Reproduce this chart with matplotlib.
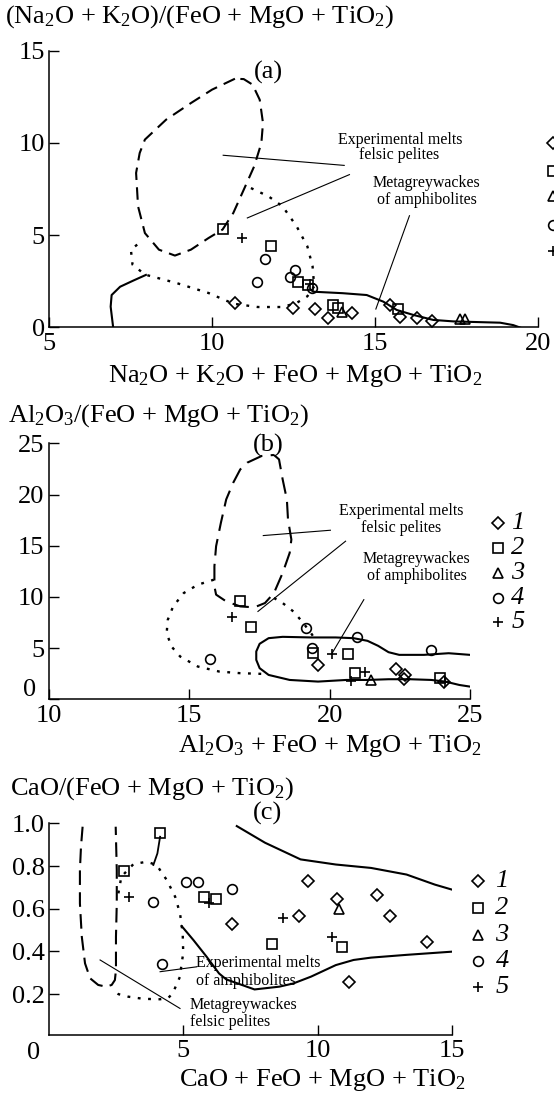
import matplotlib
matplotlib.use("Agg")
import matplotlib.pyplot as plt

plt.rcParams['font.family'] = 'Liberation Serif'
plt.rcParams['mathtext.fontset'] = 'custom'
plt.rcParams['mathtext.rm'] = 'Liberation Serif'
plt.rcParams['mathtext.it'] = 'Liberation Serif:italic'

# ---------------- panel (a) ----------------
a_pelite_x = [10.70, 10.00, 9.35, 8.59, 7.94, 7.78, 7.67, 7.73, 7.94, 8.37, 8.86, 9.35,
              9.89, 10.32, 10.65, 10.97, 11.29, 11.51, 11.56, 11.46, 11.24, 10.97, 10.70]
a_pelite_y = [13.48, 12.89, 12.16, 11.26, 10.18, 9.45, 8.37, 6.56, 5.11, 4.21, 3.89, 4.21,
              4.84, 5.30, 6.20, 7.46, 8.73, 9.99, 11.08, 12.34, 13.16, 13.46, 13.48]
a_greywacke_x = [11.19, 11.73, 12.16, 12.59, 12.92, 13.08, 13.13, 12.92, 12.59, 12.16, 11.40,
                 10.65, 9.89, 8.91, 7.94, 7.56, 7.51, 7.83]
a_greywacke_y = [7.55, 7.10, 6.56, 5.48, 4.39, 3.31, 2.22, 1.68, 1.32, 1.10, 1.10,
                 1.28, 1.86, 2.40, 2.86, 3.40, 4.21, 4.66]
a_amph_left_x = [6.97, 6.89, 6.92, 7.18, 7.58, 7.97]
a_amph_left_y = [-0.05, 1.12, 1.75, 2.20, 2.53, 2.84]
a_amph_right_x = [13.02, 13.10, 14.0, 14.74, 15.25, 15.66, 16.17, 16.78, 17.4, 18.2, 18.83, 19.23, 19.5]
a_amph_right_y = [2.05, 1.93, 1.85, 1.75, 1.39, 0.94, 0.67, 0.40, 0.32, 0.28, 0.25, 0.12, -0.05]

a_x1 = [10.70, 12.49, 13.15, 13.56, 14.28, 15.45, 15.76, 16.27, 16.73]
a_y1 = [1.30, 1.03, 0.99, 0.49, 0.79, 1.21, 0.57, 0.49, 0.34]
a_x2 = [10.34, 11.81, 12.64, 12.95, 13.72, 13.85, 15.71]
a_y2 = [5.33, 4.39, 2.47, 2.29, 1.21, 1.05, 0.98]
a_x3 = [13.97, 17.60, 17.75]
a_y3 = [0.85, 0.43, 0.43]
a_x4 = [11.62, 11.37, 12.39, 12.54, 13.05]
a_y4 = [3.71, 2.44, 2.74, 3.11, 2.11]
a_x5 = [10.92, 13.0]
a_y5 = [4.84, 2.35]

# ---------------- panel (b) ----------------
b_pelite_x = [18.02, 18.20, 18.33, 18.48, 18.52, 18.64, 18.58, 18.33, 18.02, 17.70, 17.32, 16.82,
              16.32, 15.96, 15.90, 15.90, 15.96, 16.13, 16.32, 16.57, 16.82, 17.07, 17.58, 18.02]
b_pelite_y = [23.86, 23.43, 21.47, 19.51, 17.56, 15.60, 14.30, 12.34, 10.38, 9.40, 8.98, 9.07,
              9.56, 10.22, 11.03, 12.99, 14.95, 17.23, 19.52, 21.15, 22.45, 23.11, 23.76, 23.86]
b_greywacke_x = [15.88, 15.31, 14.81, 14.43, 14.24, 14.20, 14.37, 14.68, 15.31, 16.07, 16.82, 17.64]
b_greywacke_y = [11.68, 11.19, 10.38, 9.07, 7.77, 6.46, 5.16, 4.18, 3.20, 2.71, 2.55, 2.48]
b_greywacke2_x = [18.02, 18.33, 18.71, 19.02, 19.34, 19.46]
b_greywacke2_y = [9.89, 9.40, 8.58, 7.60, 6.46, 5.97]
b_amph_x = [25.0, 24.24, 23.36, 22.48, 22.10, 21.73, 21.35, 20.85, 20.22, 19.34, 18.33, 17.83, 17.51,
            17.39, 17.39, 17.51, 17.83, 18.58, 19.59, 20.60, 21.35, 22.10, 22.86, 23.62, 24.12, 24.62, 25.0]
b_amph_y = [4.34, 4.50, 4.34, 4.34, 4.60, 5.22, 5.71, 5.97, 6.04, 6.04, 6.10, 5.97, 5.42,
            4.67, 3.85, 3.04, 2.38, 1.89, 1.73, 1.89, 1.89, 1.96, 1.96, 1.89, 1.73, 1.40, 1.24]

b_x1 = [19.59, 22.36, 22.67, 22.65, 24.09]
b_y1 = [3.36, 2.94, 2.38, 1.96, 1.73]
b_x2 = [16.82, 17.20, 19.40, 20.66, 20.91, 23.93]
b_y2 = [9.56, 7.05, 4.50, 4.44, 2.55, 2.06]
b_x3 = [21.48]
b_y3 = [1.92]
b_x4 = [15.75, 19.15, 19.37, 20.97, 23.62]
b_y4 = [3.95, 6.95, 4.99, 6.04, 4.77]
b_x5 = [16.51, 20.09, 20.78, 21.26, 24.10]
b_y5 = [8.03, 4.44, 1.83, 2.71, 1.70]

# ---------------- panel (c) ----------------
c_pelite_x = [1.26, 1.20, 1.16, 1.16, 1.23, 1.35, 1.54, 1.84, 2.13, 2.34, 2.46, 2.50, 2.50, 2.53, 2.53, 2.49]
c_pelite_y = [0.984, 0.890, 0.781, 0.625, 0.469, 0.344, 0.274, 0.243, 0.235, 0.243, 0.266, 0.313,
              0.469, 0.625, 0.781, 0.984]
c_greywacke_x = [2.59, 2.70, 3.15, 3.64, 4.01, 4.39, 4.70, 4.88, 4.98, 5.00, 4.94, 4.88, 4.61,
                 4.45, 4.14, 3.52, 2.96, 2.59, 2.40]
c_greywacke_y = [0.672, 0.75, 0.809, 0.820, 0.805, 0.734, 0.656, 0.578, 0.485, 0.391, 0.344, 0.282, 0.204,
                 0.183, 0.176, 0.178, 0.188, 0.200, 0.227]
c_tail_x = [4.14, 4.04, 3.89]
c_tail_y = [0.937, 0.859, 0.805]
c_amph_top_x = [6.99, 8.04, 9.36, 10.67, 11.98, 13.30, 14.35, 15.0]
c_amph_top_y = [0.987, 0.909, 0.831, 0.807, 0.791, 0.760, 0.713, 0.689]
c_amph_low_x = [4.94, 5.38, 5.87, 6.33, 6.60, 7.65, 8.57, 9.09, 9.75, 10.67, 11.33, 11.98, 13.30, 15.0]
c_amph_low_y = [0.519, 0.453, 0.375, 0.297, 0.269, 0.222, 0.235, 0.250, 0.282, 0.336, 0.360, 0.371, 0.384, 0.399]

c_x1 = [9.65, 6.80, 9.32, 10.71, 12.19, 12.69, 14.05, 11.17]
c_y1 = [0.731, 0.528, 0.566, 0.644, 0.664, 0.567, 0.445, 0.258]
c_x2 = [4.14, 2.81, 5.78, 6.22, 8.29, 10.89]
c_y2 = [0.956, 0.777, 0.656, 0.645, 0.435, 0.419]
c_x3 = [10.80]
c_y3 = [0.597]
c_x4 = [3.89, 5.10, 5.56, 6.80, 4.20]
c_y4 = [0.633, 0.724, 0.724, 0.692, 0.341]
c_x5 = [3.00, 5.97, 8.70, 10.54]
c_y5 = [0.656, 0.625, 0.555, 0.466]

legend_labels = ['1', '2', '3', '4', '5']
markers = ['D', 's', '^', 'o', '+']
msizes = [6.5, 7, 7, 7, 7]

FS = 19  # main text size

W, H = 554, 1094
fig = plt.figure(figsize=(W / 100, H / 100), dpi=100)


def fpos(x, y):
    return x / W, 1 - y / H


def make_axes(left, top, right, bottom, xlim, ylim, xticks, yticks, yfmt):
    ax = fig.add_axes([left / W, 1 - bottom / H, (right - left) / W, (bottom - top) / H])
    ax.set_xlim(*xlim)
    ax.set_ylim(*ylim)
    for s in ['top', 'right']:
        ax.spines[s].set_visible(False)
    for s in ['left', 'bottom']:
        ax.spines[s].set_linewidth(1.1)
    ax.set_xticks(xticks)
    ax.set_yticks(yticks)
    ax.set_yticklabels([yfmt.format(v) for v in yticks])
    ax.tick_params(direction='in', length=7, width=1.0, labelsize=FS, pad=4)
    ax.tick_params(axis='y', pad=3)
    return ax


def draw_points(ax, xs, ys):
    for (x, y), m, ms in zip(zip(xs, ys), markers, msizes):
        ax.plot(x, y, linestyle='none', marker=m, markersize=ms, markerfacecolor='none',
                markeredgecolor='black', markeredgewidth=1.2, clip_on=False, zorder=3)


def draw_legend(ax, lx, tx, ys):
    for y, m, ms, lab in zip(ys, markers, msizes, legend_labels):
        ax.plot(lx, y, linestyle='none', marker=m, markersize=ms, markerfacecolor='none',
                markeredgecolor='black', markeredgewidth=1.2, clip_on=False)
        if tx is not None:
            ax.text(tx, y, lab, fontsize=FS, style='italic', ha='center', va='center')


def note(ax, x, y, s):
    ax.text(x, y, s, fontsize=11.5, ha='center', va='center')


dash = (0, (6, 3.5))
dots = (0, (1.2, 3.2))

# ---- (a)
ax = make_axes(49, 50.7, 538.3, 327.3, (5, 20), (0, 15), [5, 10, 15, 20], [0, 5, 10, 15], '{:d}')
ax.plot(a_pelite_x, a_pelite_y, color='black', lw=1.5, linestyle=dash)
ax.plot(a_greywacke_x, a_greywacke_y, color='black', lw=1.7, linestyle=dots)
ax.plot(a_amph_left_x, a_amph_left_y, color='black', lw=1.5)
ax.plot(a_amph_right_x, a_amph_right_y, color='black', lw=1.5)
draw_points(ax, [a_x1, a_x2, a_x3, a_x4, a_x5], [a_y1, a_y2, a_y3, a_y4, a_y5])
ax.plot([10.34, 14.05], [9.33, 8.78], color='black', lw=0.8)
ax.plot([11.08, 14.21], [5.93, 8.28], color='black', lw=0.8)
ax.plot([15.02, 16.05], [0.99, 6.05], color='black', lw=0.8)
note(ax, 15.78, 10.14, 'Experimental melts')
note(ax, 15.73, 9.33, 'felsic pelites')
note(ax, 16.57, 7.83, 'Metagreywackes')
note(ax, 16.59, 6.92, 'of amphibolites')
draw_legend(ax, 20.45, None, [9.99, 8.46, 7.10, 5.57, 4.12])
fig.text(*fpos(5, 23), r'(Na$_2$O + K$_2$O)/(FeO + MgO + TiO$_2$)', fontsize=FS, ha='left', va='baseline')
fig.text(*fpos(482, 382), r'Na$_2$O + K$_2$O + FeO + MgO + TiO$_2$', fontsize=FS, ha='right', va='baseline')
fig.text(*fpos(268, 72), '(a)', fontsize=FS, ha='center', va='center')

# ---- (b)
ax = make_axes(48.7, 443.3, 470, 699.3, (10, 25), (0, 25), [10, 15, 20, 25], [0, 5, 10, 15, 20, 25], '{:d}')
ax.set_yticklabels([''] + [str(v) for v in [5, 10, 15, 20, 25]])
fig.text(*fpos(30, 690), '0', fontsize=FS, ha='center', va='center')
ax.plot(b_pelite_x, b_pelite_y, color='black', lw=1.5, linestyle=(0, (8, 4)))
ax.plot(b_greywacke_x, b_greywacke_y, color='black', lw=1.7, linestyle=dots)
ax.plot(b_greywacke2_x, b_greywacke2_y, color='black', lw=1.7, linestyle=dots)
ax.plot(b_amph_x, b_amph_y, color='black', lw=1.5)
draw_points(ax, [b_x1, b_x2, b_x3, b_x4, b_x5], [b_y1, b_y2, b_y3, b_y4, b_y5])
ax.plot([17.64, 20.03], [15.99, 16.51], color='black', lw=0.8)
ax.plot([17.45, 20.57], [8.58, 15.44], color='black', lw=0.8)
ax.plot([20.09, 21.22], [4.50, 9.73], color='black', lw=0.8)
note(ax, 22.55, 18.37, 'Experimental melts')
note(ax, 22.55, 16.74, 'felsic pelites')
note(ax, 23.11, 13.71, 'Metagreywackes')
note(ax, 23.11, 12.08, 'of amphibolites')
draw_legend(ax, 26.0, 26.7, [17.23, 14.78, 12.34, 9.89, 7.51])
fig.text(*fpos(8, 421.7), r'Al$_2$O$_3$/(FeO + MgO + TiO$_2$)', fontsize=FS, ha='left', va='baseline')
fig.text(*fpos(482, 752), r'Al$_2$O$_3$ + FeO + MgO + TiO$_2$', fontsize=FS, ha='right', va='baseline')
fig.text(*fpos(268, 445), '(b)', fontsize=FS, ha='center', va='center')

# ---- (c)
ax = make_axes(48.7, 823.3, 452.3, 1034.5, (0, 15), (0.011, 1.0), [5, 10, 15], [0.2, 0.4, 0.6, 0.8, 1.0], '{:.1f}')
ax.plot(c_pelite_x, c_pelite_y, color='black', lw=1.5, linestyle=(0, (7, 3.5)))
ax.plot(c_greywacke_x, c_greywacke_y, color='black', lw=1.7, linestyle=dots)
ax.plot(c_tail_x, c_tail_y, color='black', lw=1.3)
ax.plot(c_amph_top_x, c_amph_top_y, color='black', lw=1.5)
ax.plot(c_amph_low_x, c_amph_low_y, color='black', lw=1.5)
draw_points(ax, [c_x1, c_x2, c_x3, c_x4, c_x5], [c_y1, c_y2, c_y3, c_y4, c_y5])
ax.plot([4.14, 5.50], [0.305, 0.328], color='black', lw=0.8)
ax.plot([1.91, 4.88], [0.360, 0.133], color='black', lw=0.8)
ax.text(5.48, 0.344, 'Experimental melts', fontsize=11.5, ha='left', va='center')
ax.text(5.48, 0.261, 'of amphibolites', fontsize=11.5, ha='left', va='center')
ax.text(5.24, 0.148, 'Metagreywackes', fontsize=11.5, ha='left', va='center')
ax.text(5.24, 0.071, 'felsic pelites', fontsize=11.5, ha='left', va='center')
draw_legend(ax, 15.96, 16.85, [0.729, 0.603, 0.478, 0.357, 0.235])
fig.text(*fpos(33.3, 1053.3), '0', fontsize=FS, ha='center', va='center')
fig.text(*fpos(10, 795), r'CaO/(FeO + MgO + TiO$_2$)', fontsize=FS, ha='left', va='baseline')
fig.text(*fpos(465, 1086), r'CaO + FeO + MgO + TiO$_2$', fontsize=FS, ha='right', va='baseline')
fig.text(*fpos(267, 813), '(c)', fontsize=FS, ha='center', va='center')

fig.savefig('out.png', dpi=100)
